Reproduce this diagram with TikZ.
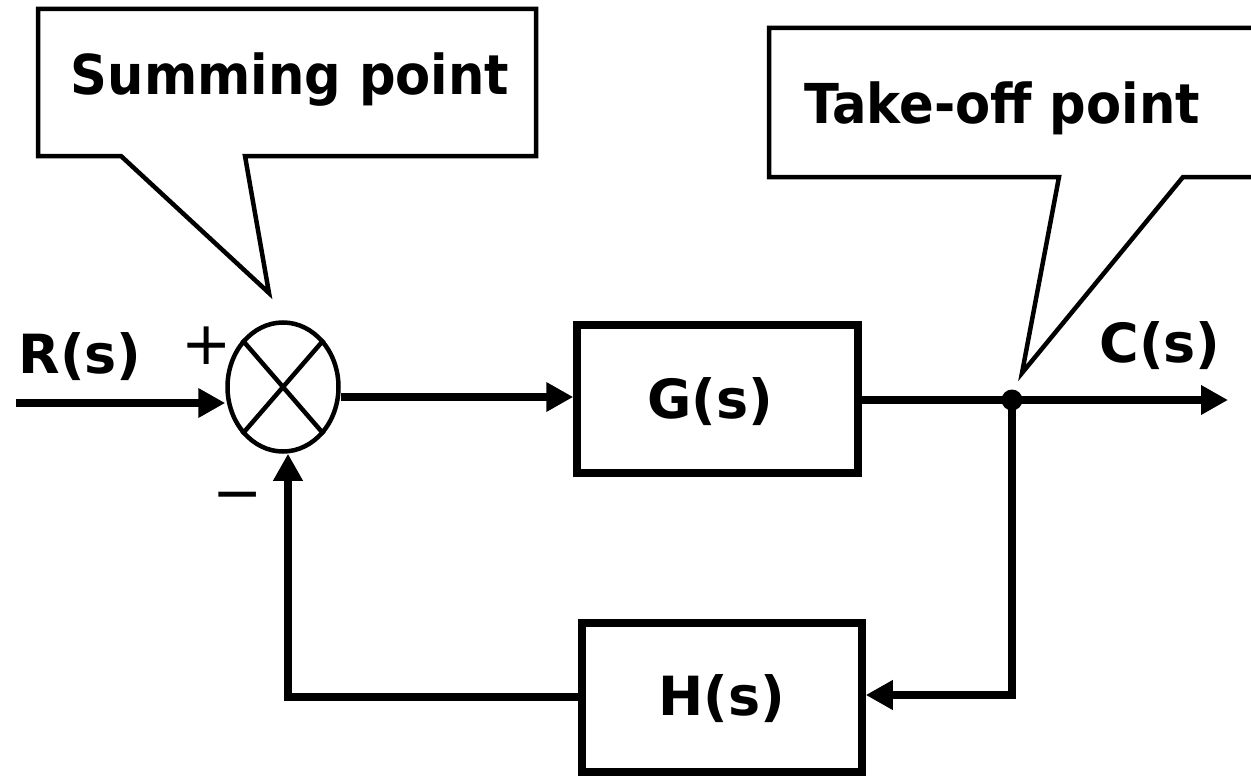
\documentclass[tikz,border=0pt]{standalone}
\usepackage{fontspec}
\setmainfont{DejaVu Sans}
\newfontfamily\calloutfont{DejaVu Sans}[FakeStretch=0.93]
\usetikzlibrary{arrows.meta,shapes.geometric}
\tikzset{
  conn/.style={line width=7.5pt, line join=miter, -{Triangle[length=27pt,width=28pt]}},
  blockbox/.style={draw, line width=7.5pt},
  callout/.style={draw, line width=4.5pt, line join=miter},
  biglabel/.style={font=\calloutfont\fontsize{55}{60}\selectfont\bfseries, inner sep=0pt, anchor=base},
  siglabel/.style={font=\fontsize{54}{58}\selectfont\bfseries, inner sep=0pt, anchor=base},
  signlabel/.style={font=\fontsize{60}{60}\selectfont, inner sep=0pt}
}
\begin{document}
\begin{tikzpicture}[x=1pt,y=-1pt]
\useasboundingbox (0,0) rectangle (1251,776);
\begin{scope}
\clip (0,0) rectangle (1251,776);
% callouts
\draw[callout] (38,9) -- (536,9) -- (536,156) -- (245,156) -- (269,293) -- (121,156) -- (38,156) -- cycle;
\draw[callout] (769,28) -- (1300,28) -- (1300,177) -- (1183,177) -- (1022,373) -- (1059,177) -- (769,177) -- cycle;
\end{scope}
\node[biglabel] (sumtxt) at (290,95) {Summing point};
\node[biglabel] (taketxt) at (1002,123) {Take-off point};

% summing junction
\node[draw, line width=4.5pt, ellipse, minimum width=111pt, minimum height=129pt, inner sep=0pt] (sum) at (283,387) {};
\draw[line width=4.5pt] (sum.north east) -- (sum.south west);
\draw[line width=4.5pt] (sum.north west) -- (sum.south east);

% blocks
\node[blockbox, minimum width=281pt, minimum height=148pt, inner sep=0pt] (G) at (717.5,399) {};
\node[blockbox, minimum width=280pt, minimum height=149pt, inner sep=0pt] (H) at (722,697.5) {};
\node[siglabel] (Gt) at (710,418) {G(s)};
\node[siglabel] (Ht) at (722,715) {H(s)};
\node[siglabel] (Rt) at (80,373) {R(s)};
\node[siglabel] (Ct) at (1160,362) {C(s)};

\node[signlabel] (plus) at (207,346) {+};
\node[signlabel] (minus) at (238,503) {−};

% coordinates
\coordinate (inp) at (16,403);
\coordinate (out) at (1228,400);
\coordinate (tap) at (1012,400);
\coordinate (tapdown) at (1012,695);
\coordinate (fbcorner) at (288,697);

% connectors
\draw[conn] (inp) -- (inp -| sum.west);
\draw[conn] (sum.east |- 0,397) -- (G.west |- 0,397);
\draw[conn] (G.east |- tap) -- (out);
\draw[conn] (tap) -- (tapdown) -- (H.east |- tapdown);
\draw[conn] (H.west |- fbcorner) -- (fbcorner) -- (fbcorner |- sum.south);
\fill (tap) circle (10.5pt);
\end{tikzpicture}
\end{document}
